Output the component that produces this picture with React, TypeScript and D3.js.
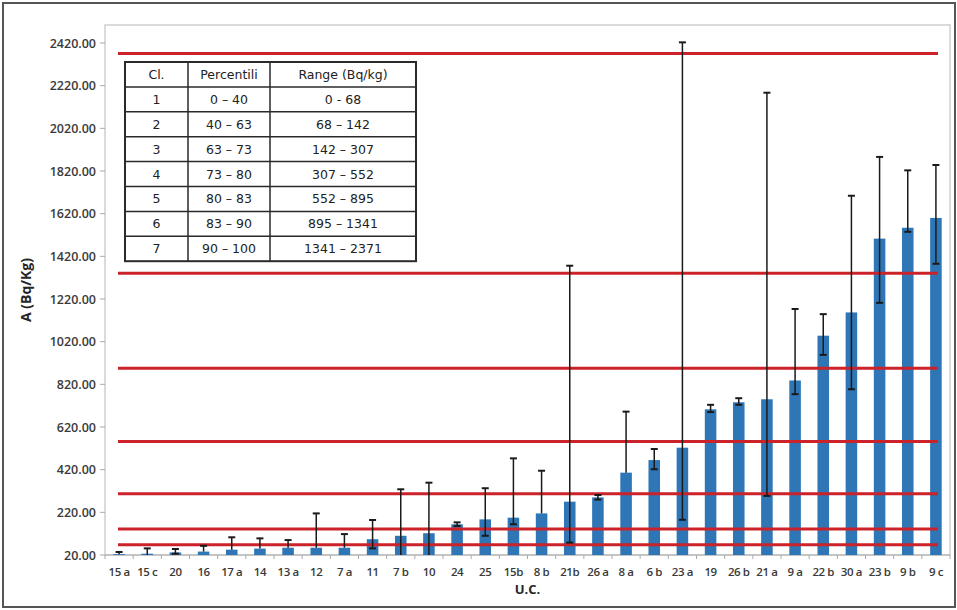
import React from "react";
import * as d3 from "d3";

const categories = ["15 a","15 c","20","16","17 a","14","13 a","12","7 a","11","7 b","10","24","25","15b","8 b","21b","26 a","8 a","6 b","23 a","19","26 b","21 a","9 a","22 b","30 a","23 b","9 b","9 c"];
const values = [24, 26, 32, 36, 45, 50, 54, 54, 54, 94, 110, 122, 164, 187, 195, 215, 270, 290, 406, 465, 523, 703, 736, 750, 838, 1048, 1157, 1503, 1554, 1600];
const highs = [34, 51, 48, 63, 103, 98, 90, 215, 118, 184, 328, 359, 173, 333, 473, 415, 1376, 301, 692, 517, 2423, 724, 755, 2187, 1173, 1149, 1704, 1886, 1823, 1848];
const lows = [24, 20, 26, 36, 45, 50, 54, 54, 54, 51, 20, 20, 156, 110, 164, 215, 78, 280, 406, 422, 185, 690, 724, 297, 774, 958, 797, 1202, 1535, 1385];
const thresholds = [68, 142, 307, 552, 895, 1341, 2371];
const yTicks = [20, 220, 420, 620, 820, 1020, 1220, 1420, 1620, 1820, 2020, 2220, 2420];

const tableHeader = ["Cl.", "Percentili", "Range (Bq/kg)"];
const tableClasses = ["1", "2", "3", "4", "5", "6", "7"];
const tablePercentili = ["0 \u2013 40", "40 \u2013 63", "63 \u2013 73", "73 \u2013 80", "80 \u2013 83", "83 \u2013 90", "90 \u2013 100"];
const tableRanges = ["0 - 68", "68 \u2013 142", "142 \u2013 307", "307 \u2013 552", "552 \u2013 895", "895 \u2013 1341", "1341 \u2013 2371"];

const W = 957, H = 610;
const plotL = 105, plotR = 950, plotT = 25, plotB = 555;

export default function App() {
  const x = d3.scaleBand<string>().domain(categories).range([plotL, plotR]).paddingInner(0.59).paddingOuter(0.295);
  const y = d3.scaleLinear().domain([20, 2420]).range([plotB, 43]);
  const step = x.step();
  const bw = x.bandwidth();
  const fmt = d3.format(".2f");
  const tickFont = "'Open Sans', 'Liberation Sans', sans-serif";
  const tblFont = "'DejaVu Sans', Verdana, sans-serif";

  const tL = 125, tR = 416, tT = 62, rowH = 24.9;
  const colX = [125, 188, 270, 416];
  const nRows = tableClasses.length + 1;
  const tB = tT + rowH * nRows;
  const rows = [tableHeader, ...tableClasses.map((c, i) => [c, tablePercentili[i], tableRanges[i]])];

  return (
    <svg width={W} height={H} style={{ position: "absolute", left: 0, top: 0, background: "#fff" }}>
      <rect x={3} y={3} width={952} height={604} fill="#fff" stroke="#555" strokeWidth={2} />
      <rect x={plotL} y={plotT} width={plotR - plotL} height={plotB - plotT} fill="#fff" stroke="#c4c4c4" strokeWidth={1.2} />

      {yTicks.map((t) => (
        <g key={t}>
          <line x1={plotL - 5} x2={plotL} y1={y(t)} y2={y(t)} stroke="#aaa" strokeWidth={1} />
          <text x={plotL - 9} y={y(t)} dy="0.36em" textAnchor="end" fontFamily={tickFont} fontWeight={600} fontSize={12.5} fill="#3a3a3a">
            {fmt(t)}
          </text>
        </g>
      ))}

      <line x1={plotL} x2={plotR} y1={plotB} y2={plotB} stroke="#b0b0b0" strokeWidth={1.2} />
      {d3.range(categories.length + 1).map((k) => (
        <line key={k} x1={plotL + k * step} x2={plotL + k * step} y1={plotB} y2={plotB + 4} stroke="#aaa" strokeWidth={1} />
      ))}
      {categories.map((c) => (
        <text key={c} x={(x(c) as number) + bw / 2} y={576} textAnchor="middle" fontFamily={tickFont} fontWeight={600} fontSize={11.5} letterSpacing={-0.4} fill="#3a3a3a">
          {c}
        </text>
      ))}

      {categories.map((c, i) => (
        <rect key={c} x={x(c)} y={y(values[i])} width={bw} height={plotB - y(values[i])} fill="#2e76b6" />
      ))}

      {thresholds.map((t) => (
        <line key={t} x1={plotL + 13} x2={plotR - 12} y1={y(t)} y2={y(t)} stroke="#cc2229" strokeWidth={3} />
      ))}

      {categories.map((c, i) => {
        const cx = (x(c) as number) + bw / 2;
        const yh = y(highs[i]);
        const yl = y(Math.max(lows[i], 20));
        const hasLow = lows[i] < values[i] && lows[i] > 20;
        return (
          <g key={c} stroke="#1a1a1a" strokeWidth={1.5}>
            <line x1={cx} x2={cx} y1={yh} y2={yl} />
            <line x1={cx - 3.5} x2={cx + 3.5} y1={yh} y2={yh} strokeWidth={2} />
            {hasLow && <line x1={cx - 3.5} x2={cx + 3.5} y1={yl} y2={yl} strokeWidth={2} />}
          </g>
        );
      })}

      <text transform={`translate(31,${(plotT + plotB) / 2}) rotate(-90)`} textAnchor="middle" fontFamily={tickFont} fontWeight={700} fontSize={14} fill="#262626">
        A (Bq/Kg)
      </text>
      <text x={(plotL + plotR) / 2} y={594} textAnchor="middle" fontFamily={tickFont} fontWeight={700} fontSize={13} fill="#262626">
        U.C.
      </text>

      <g>
        <rect x={tL} y={tT} width={tR - tL} height={tB - tT} fill="#fff" stroke="#2a2a2a" strokeWidth={2} />
        {d3.range(1, nRows).map((r) => (
          <line key={r} x1={tL} x2={tR} y1={tT + r * rowH} y2={tT + r * rowH} stroke="#2a2a2a" strokeWidth={1.5} />
        ))}
        {[colX[1], colX[2]].map((cx) => (
          <line key={cx} x1={cx} x2={cx} y1={tT} y2={tB} stroke="#2a2a2a" strokeWidth={1.5} />
        ))}
        {rows.map((row, r) =>
          row.map((cell, ci) => (
            <text key={`${r}-${ci}`} x={(colX[ci] + colX[ci + 1]) / 2} y={tT + r * rowH + rowH / 2} dy="0.36em" textAnchor="middle" fontFamily={tblFont} fontSize={12.5} fill="#222">
              {cell}
            </text>
          ))
        )}
      </g>
    </svg>
  );
}
